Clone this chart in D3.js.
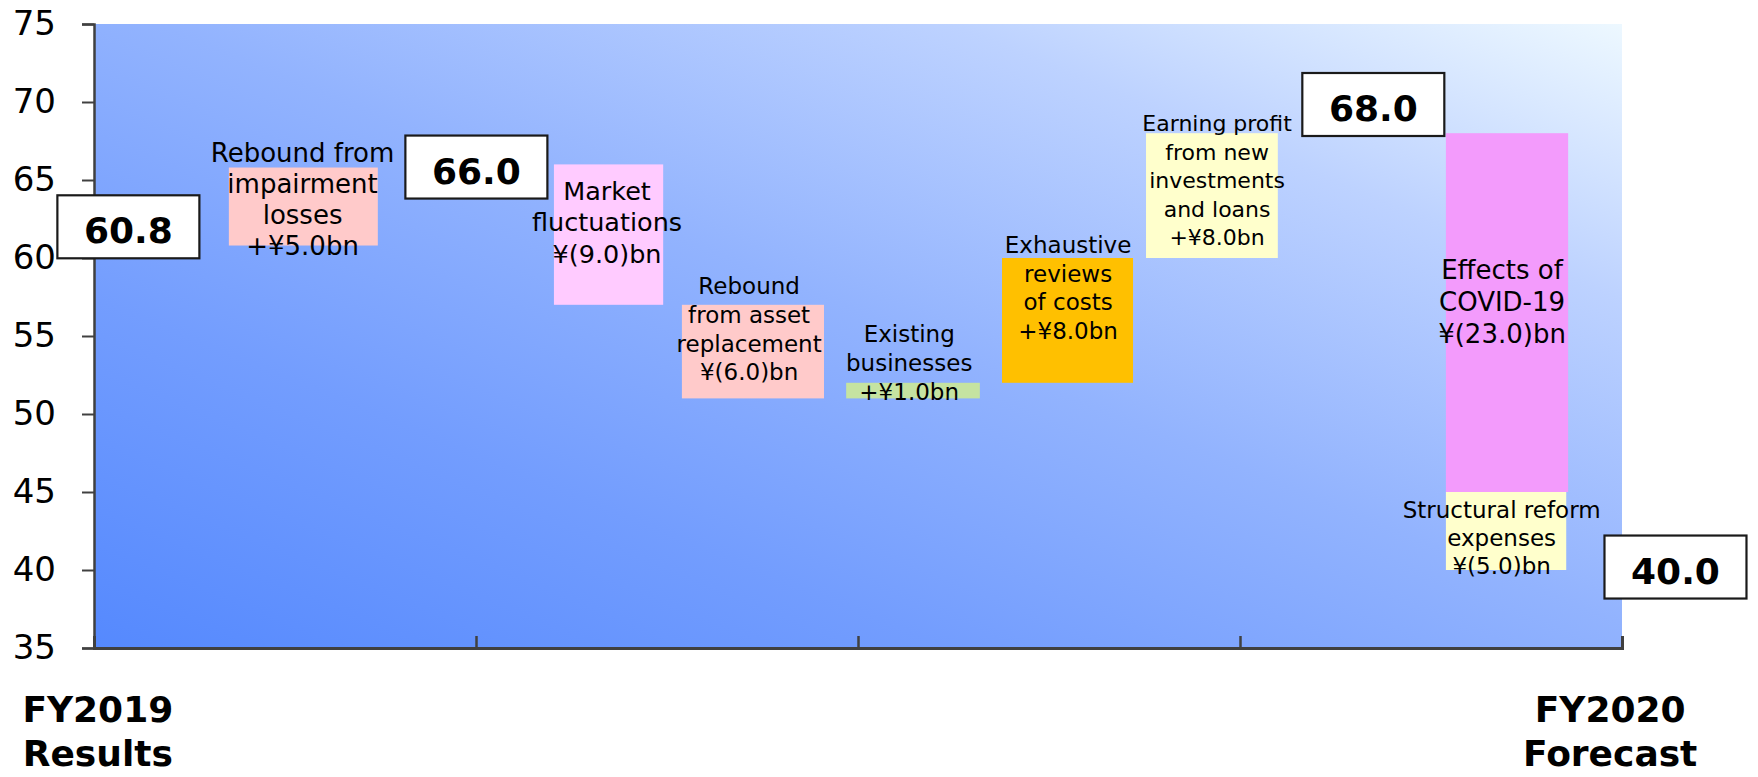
<!DOCTYPE html>
<html>
<head>
<meta charset="utf-8">
<script src="https://cdn.jsdelivr.net/npm/d3@7"></script>
<style>
  html, body { margin: 0; padding: 0; background: #ffffff; }
  svg { display: block; }
  text { font-family: "DejaVu Sans", Verdana, sans-serif; fill: #000; }
</style>
</head>
<body>
<svg id="chart" width="1758" height="777"></svg>
<script>
// ---- data ----
const yTicks = [35, 40, 45, 50, 55, 60, 65, 70, 75];
const totalValues = [60.8, 66.0, 68.0, 40.0];
const totalLabels = ["60.8", "66.0", "68.0", "40.0"];
const stepNames = [
  ["Rebound from", "impairment", "losses"],
  ["Market", "fluctuations"],
  ["Rebound", "from asset", "replacement"],
  ["Existing", "businesses"],
  ["Exhaustive", "reviews", "of costs"],
  ["Earning profit", "from new", "investments", "and loans"],
  ["Effects of", "COVID-19"],
  ["Structural reform", "expenses"]
];
const stepValues = [5.0, -9.0, -6.0, 1.0, 8.0, 8.0, -23.0, -5.0];
const stepValueLabels = ["+¥5.0bn", "¥(9.0)bn", "¥(6.0)bn", "+¥1.0bn",
                         "+¥8.0bn", "+¥8.0bn", "¥(23.0)bn", "¥(5.0)bn"];
const periodLabels = [["FY2019", "Results"], ["FY2020", "Forecast"]];
// step index after which a stated subtotal (index into totalValues) applies
const subtotalAfter = { 0: 1, 5: 2, 7: 3 };

// ---- styles ----
const stepColors = ["#ffcaca", "#ffcbff", "#ffcaca", "#c5e3a1",
                    "#ffc000", "#ffffcc", "#f39bfc", "#ffffcc"];
const axisColor = "#404040";

// ---- layout (x in axis-segment units 0..4, y in value units) ----
const barSpan = [[0.353, 0.743], [1.204, 1.490], [1.539, 1.911], [1.969, 2.319],
                 [2.377, 2.720], [2.754, 3.099], [3.539, 3.859], [3.539, 3.854]];
const labelPos = [
  { x: 0.546, y: 66.17, size: 26, lh: 31 },
  { x: 1.343, y: 63.72, size: 25.5, lh: 31.5 },
  { x: 1.715, y: 57.67, size: 23, lh: 28.6 },
  { x: 2.134, y: 54.63, size: 23, lh: 29 },
  { x: 2.550, y: 60.32, size: 23, lh: 28.7 },
  { x: 2.940, y: 68.14, size: 22, lh: 28.5 },
  { x: 3.686, y: 58.63, size: 26, lh: 32 },
  { x: 3.685, y: 43.31, size: 23, lh: 28 }
];
const totalPos = [
  { x: 0.090, y: 62.00 },
  { x: 1.001, y: 65.83 },
  { x: 3.349, y: 69.84 },
  { x: 4.140, y: 40.19 }
];
const periodPos = [0.01, 3.969];

const plot = { left: 94, right: 1622, top: 24, bottom: 648 };

const svg = d3.select("#chart");

const x = d3.scaleLinear().domain([0, 4]).range([plot.left, plot.right]);
const y = d3.scaleLinear().domain([35, 75]).range([plot.bottom, plot.top]);

// background gradient of the plot area
const defs = svg.append("defs");
const grad = defs.append("linearGradient")
  .attr("id", "plotBg")
  .attr("x1", 0).attr("y1", 1).attr("x2", 1).attr("y2", 0);
[["0", "#5589fe"], ["0.28", "#739dfe"], ["0.52", "#92b3fe"],
 ["0.78", "#bdd2ff"], ["1", "#edf8ff"]].forEach(([o, c]) =>
  grad.append("stop").attr("offset", o).attr("stop-color", c));

svg.append("rect")
  .attr("x", x(0) + 1).attr("y", y(75))
  .attr("width", x(4) - x(0) - 1).attr("height", y(35) - y(75))
  .attr("fill", "url(#plotBg)");

// waterfall steps
let running = totalValues[0];
const steps = stepValues.map((v, i) => {
  const start = running;
  const end = start + v;
  running = end;
  if (subtotalAfter[i] !== undefined) running = totalValues[subtotalAfter[i]];
  return { i, start, end };
});

svg.append("g").selectAll("rect")
  .data(steps)
  .join("rect")
  .attr("x", d => x(barSpan[d.i][0]))
  .attr("width", d => x(barSpan[d.i][1]) - x(barSpan[d.i][0]))
  .attr("y", d => y(Math.max(d.start, d.end)))
  .attr("height", d => Math.abs(y(d.start) - y(d.end)))
  .attr("fill", d => stepColors[d.i]);

// step labels
const lbl = svg.append("g").selectAll("text")
  .data(steps)
  .join("text")
  .attr("text-anchor", "middle")
  .attr("font-size", d => labelPos[d.i].size)
  .attr("x", d => x(labelPos[d.i].x))
  .attr("y", d => y(labelPos[d.i].y));
lbl.each(function (d) {
  const lines = stepNames[d.i].concat([stepValueLabels[d.i]]);
  const t = d3.select(this);
  lines.forEach((s, k) => {
    t.append("tspan")
      .attr("x", x(labelPos[d.i].x))
      .attr("dy", k === 0 ? 0 : labelPos[d.i].lh)
      .text(s);
  });
});

// axes
const yAxis = d3.axisLeft(y).tickValues(yTicks).tickSize(12).tickPadding(26);
const gy = svg.append("g").attr("transform", `translate(${plot.left},0)`).call(yAxis);
gy.select(".domain").attr("stroke", axisColor).attr("stroke-width", 2.5);
gy.selectAll(".tick line").attr("stroke", axisColor).attr("stroke-width", 2);
gy.selectAll(".tick text")
  .attr("font-family", "DejaVu Sans, Verdana, sans-serif")
  .attr("font-size", 34).attr("fill", "#000");

const xAxis = d3.axisTop(x).tickValues([0, 1, 2, 3, 4]).tickSize(12).tickFormat("");
const gx = svg.append("g").attr("transform", `translate(0,${plot.bottom})`).call(xAxis);
gx.select(".domain").attr("stroke", axisColor).attr("stroke-width", 3);
gx.selectAll(".tick line").attr("stroke", axisColor).attr("stroke-width", 2.5);

// total value boxes
const boxW = 142, boxH = 63;
const tg = svg.append("g").selectAll("g")
  .data(totalValues)
  .join("g")
  .attr("transform", (d, i) => `translate(${x(totalPos[i].x)},${y(totalPos[i].y)})`);
tg.append("rect")
  .attr("x", -boxW / 2).attr("y", -boxH / 2)
  .attr("width", boxW).attr("height", boxH)
  .attr("fill", "#ffffff").attr("stroke", "#1a1a1a").attr("stroke-width", 2.2);
tg.append("text")
  .attr("text-anchor", "middle")
  .attr("y", 16.5)
  .attr("font-size", 36).attr("font-weight", "bold")
  .text((d, i) => totalLabels[i]);

// period labels under the axis
svg.append("g").selectAll("text")
  .data(periodLabels)
  .join("text")
  .attr("text-anchor", "middle")
  .attr("font-size", 36).attr("font-weight", "bold")
  .attr("x", (d, i) => x(periodPos[i]))
  .attr("y", plot.bottom + 74)
  .each(function (d, i) {
    const t = d3.select(this);
    d.forEach((s, k) => t.append("tspan")
      .attr("x", x(periodPos[i])).attr("dy", k === 0 ? 0 : 44).text(s));
  });
</script>
</body>
</html>
